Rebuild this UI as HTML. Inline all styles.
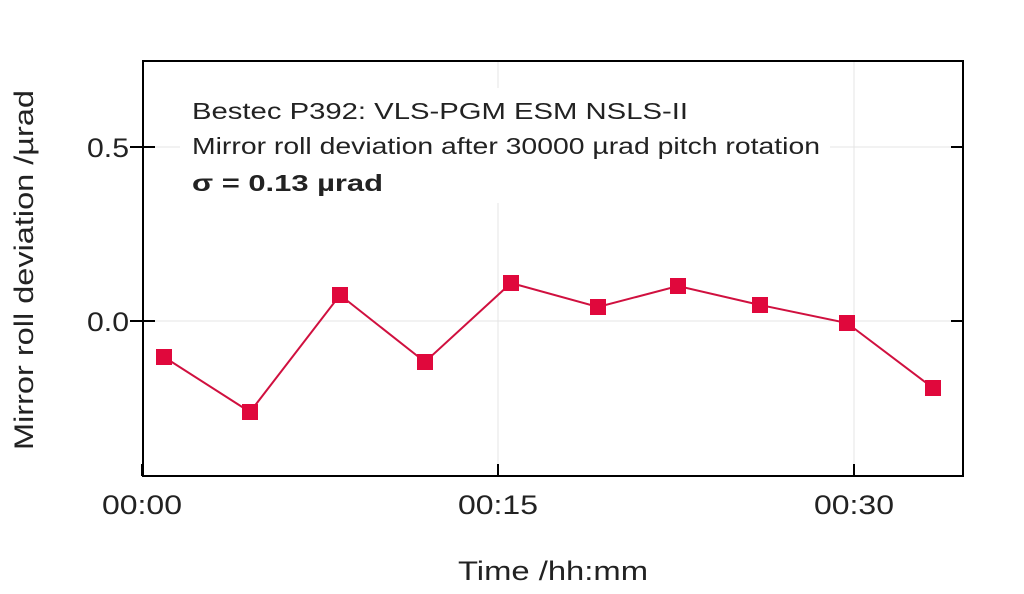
<!DOCTYPE html>
<html><head><style>body{margin:0;background:#fff}</style></head><body>
<svg width="1024" height="589" xmlns="http://www.w3.org/2000/svg" font-family="Liberation Sans, sans-serif">
<rect width="1024" height="589" fill="#fff"/>
<g stroke="#e4e4e4" stroke-width="1">
<line x1="498" y1="61" x2="498" y2="476"/><line x1="854" y1="61" x2="854" y2="476"/>
<line x1="143" y1="147" x2="963" y2="147"/><line x1="143" y1="321" x2="963" y2="321"/>
</g>
<rect x="180" y="88" width="650" height="115" fill="#fff"/>
<rect x="143" y="61" width="820" height="415" fill="none" stroke="#000" stroke-width="2"/>
<g stroke="#000" stroke-width="2">
<line x1="130" y1="147" x2="155" y2="147"/><line x1="130" y1="321" x2="155" y2="321"/>
<line x1="951" y1="147" x2="963" y2="147"/><line x1="951" y1="321" x2="963" y2="321"/>
<line x1="142" y1="464" x2="142" y2="476"/><line x1="498" y1="464" x2="498" y2="476"/><line x1="854" y1="464" x2="854" y2="476"/>
</g>
<g font-size="27" fill="#222" text-anchor="end">
<text x="129" y="157" textLength="42" lengthAdjust="spacingAndGlyphs">0.5</text>
<text x="129" y="331" textLength="42" lengthAdjust="spacingAndGlyphs">0.0</text>
</g>
<g font-size="27" fill="#222">
<text x="102" y="514" textLength="80" lengthAdjust="spacingAndGlyphs">00:00</text>
<text x="458" y="514" textLength="80" lengthAdjust="spacingAndGlyphs">00:15</text>
<text x="814" y="514" textLength="80" lengthAdjust="spacingAndGlyphs">00:30</text>
<text x="458" y="580" textLength="190" lengthAdjust="spacingAndGlyphs">Time /hh:mm</text>
<text transform="translate(33,450) rotate(-90)" textLength="360" lengthAdjust="spacingAndGlyphs">Mirror roll deviation /µrad</text>
</g>
<g font-size="23" fill="#222">
<text x="192" y="119" textLength="496" lengthAdjust="spacingAndGlyphs">Bestec P392: VLS-PGM ESM NSLS-II</text>
<text x="192" y="154" textLength="628" lengthAdjust="spacingAndGlyphs">Mirror roll deviation after 30000 µrad pitch rotation</text>
<text x="192" y="191" font-weight="bold" textLength="191" lengthAdjust="spacingAndGlyphs">σ  = 0.13 µrad</text>
</g>
<polyline fill="none" stroke="#d0103f" stroke-width="2" points="164,357 250,412 340,295 425,362 511,283 598,307 678,286 760,305 847,323 933,388"/>
<g fill="#e0083c">
<rect x="156" y="349" width="16" height="16"/><rect x="242" y="404" width="16" height="16"/><rect x="332" y="287" width="16" height="16"/><rect x="417" y="354" width="16" height="16"/><rect x="503" y="275" width="16" height="16"/><rect x="590" y="299" width="16" height="16"/><rect x="670" y="278" width="16" height="16"/><rect x="752" y="297" width="16" height="16"/><rect x="839" y="315" width="16" height="16"/><rect x="925" y="380" width="16" height="16"/>
</g>
</svg>
</body></html>
